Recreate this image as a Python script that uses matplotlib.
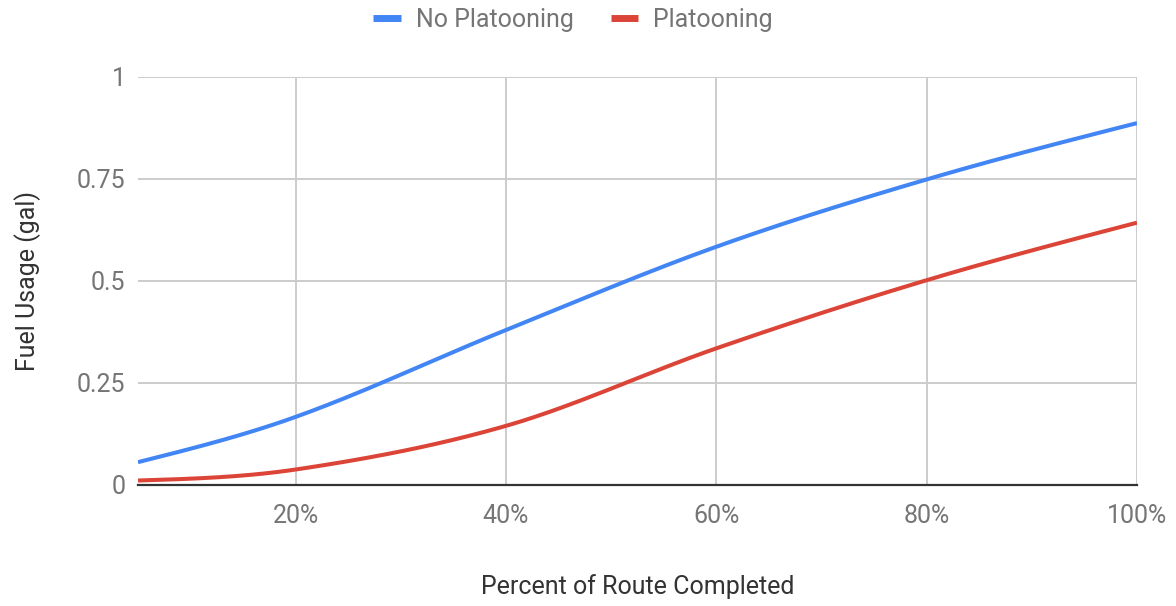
import numpy as np
import matplotlib
matplotlib.use("Agg")
import matplotlib.pyplot as plt
from matplotlib.lines import Line2D

plt.rcParams['font.family'] = ['Roboto', 'DejaVu Sans']

# Data
route_pct = [5, 20, 40, 60, 80, 100]
no_platooning = [0.056, 0.167, 0.38, 0.584, 0.749, 0.887]
platooning = [0.011, 0.038, 0.145, 0.335, 0.502, 0.643]
x_ticks = [20, 40, 60, 80, 100]
x_tick_labels = ['20%', '40%', '60%', '80%', '100%']
y_ticks = [0, 0.25, 0.5, 0.75, 1]
y_tick_labels = ['0', '0.25', '0.5', '0.75', '1']
series_names = ['No Platooning', 'Platooning']
colors = ['#4285F4', '#DB4437']


def smooth(xs, ys, n=40):
    """Cubic Hermite smoothing through the given points (rendering only)."""
    xs = np.asarray(xs, float)
    ys = np.asarray(ys, float)
    m = len(xs)
    sec = np.diff(ys) / np.diff(xs)
    d = np.zeros(m)
    for i in range(1, m - 1):
        d[i] = (ys[i + 1] - ys[i - 1]) / (xs[i + 1] - xs[i - 1])
    d[0] = 1.5 * sec[0] - 0.5 * d[1]
    d[-1] = 1.5 * sec[-1] - 0.5 * d[-2]
    ox, oy = [], []
    t = np.linspace(0, 1, n)
    for i in range(m - 1):
        h = xs[i + 1] - xs[i]
        h00 = 2 * t**3 - 3 * t**2 + 1
        h10 = t**3 - 2 * t**2 + t
        h01 = -2 * t**3 + 3 * t**2
        h11 = t**3 - t**2
        ox.extend(xs[i] + t * h)
        oy.extend(h00 * ys[i] + h10 * h * d[i] + h01 * ys[i + 1] + h11 * h * d[i + 1])
    return np.array(ox), np.array(oy)


W, H = 1176, 606
fig = plt.figure(figsize=(W / 100, H / 100), dpi=100)
ax = fig.add_axes([138 / W, 1 - 485 / H, (1137 - 138) / W, (485 - 77) / H])

for ys, c in zip([no_platooning, platooning], colors):
    sx, sy = smooth(route_pct, ys)
    ax.plot(sx, sy, color=c, lw=2.9, solid_capstyle='butt', zorder=3)

ax.set_xlim(5, 100)
ax.set_ylim(0, 1)
ax.set_xticks(x_ticks)
ax.set_xticklabels(x_tick_labels)
ax.set_yticks(y_ticks)
ax.set_yticklabels(y_tick_labels)
ax.grid(True, color='#cccccc', lw=1.4)
ax.set_axisbelow(True)
for s in ['top', 'right', 'left']:
    ax.spines[s].set_visible(False)
ax.spines['bottom'].set_color('#333333')
ax.spines['bottom'].set_linewidth(1.6)
ax.spines['bottom'].set_zorder(4)
ax.tick_params(axis='both', length=0, colors='#757575', labelsize=18)
ax.tick_params(axis='x', pad=14)
ax.tick_params(axis='y', pad=9)

ax.set_xlabel('Percent of Route Completed', fontsize=18, color='#333333', labelpad=33)
ax.set_ylabel('Fuel Usage (gal)', fontsize=18, color='#333333', labelpad=26)

handles = [Line2D([0], [0], color=c, lw=5, solid_capstyle='butt') for c in colors]
fig.legend(handles, series_names, loc='center', bbox_to_anchor=(573 / W, 1 - 20 / H),
           ncol=2, frameon=False, fontsize=18, labelcolor='#757575',
           handlelength=1.1, handletextpad=0.6, columnspacing=1.5)

fig.savefig('out.png', dpi=100)
